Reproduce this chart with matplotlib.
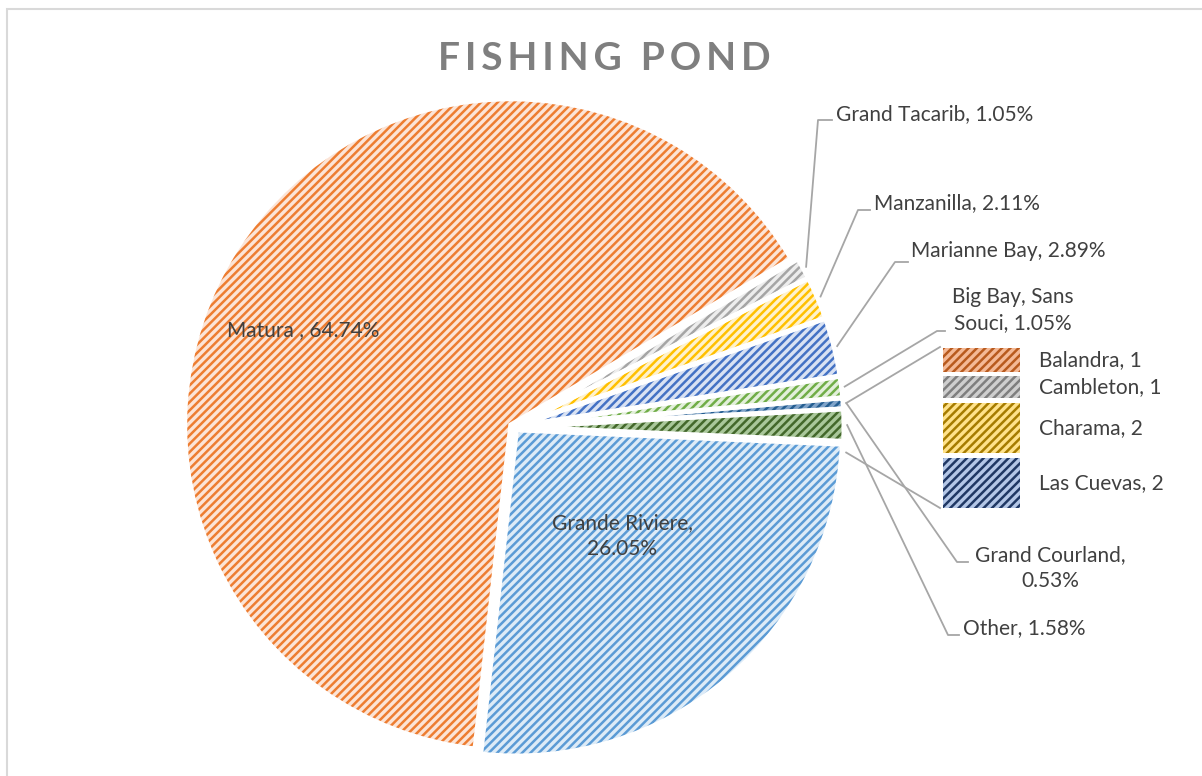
import numpy as np
import matplotlib.pyplot as plt
from matplotlib.patches import Rectangle

plt.rcParams['font.family'] = ['Lato', 'DejaVu Sans']
plt.rcParams['hatch.linewidth'] = 1.8

# slices, clockwise from the bottom edge of Matura
names = ["Matura ", "Grand Tacarib", "Manzanilla", "Marianne Bay",
         "Big Bay, Sans Souci", "Grand Courland", "Other", "Grande Riviere"]
shares = [64.74, 1.05, 2.11, 2.89, 1.05, 0.53, 1.58, 26.05]
line_colors = ["#ED7D31", "#A5A5A5", "#FFC000", "#4472C4",
               "#70AD47", "#255E91", "#43682B", "#5B9BD5"]
fill_colors = ["#FCE4D6", "#EDEDED", "#FFF2CC", "#D9E2F3",
               "#E2EFDA", "#7FA3C9", "#A9C79A", "#DDEBF7"]

# legend entries
legend_names = ["Balandra", "Cambleton", "Charama", "Las Cuevas"]
legend_counts = [1, 1, 2, 2]
legend_lines = ["#B85A1E", "#7F7F7F", "#A67C00", "#203864"]
legend_fills = ["#F4B996", "#CFCFCF", "#FFE28A", "#B4C7E7"]

W, H = 1202, 776
R = 326.0        # pie radius in pixels
CX, CY = 514, 427  # pie centre in pixels (from top)


def px(x, y):
    # pixel position (from top-left) -> data units of the pie axes
    return (x - CX) / R, (CY - y) / R


def fx(x):
    return x / W


def fy(y):
    return 1 - y / H


fig = plt.figure(figsize=(W / 100, H / 100), dpi=100)
ax = fig.add_axes([(CX - 1.2 * R) / W, (H - CY - 1.2 * R) / H, 2.4 * R / W, 2.4 * R / H])

explode = [0.012] * len(shares)
start = 90 - 186.3
wedges, _ = ax.pie(shares, colors=fill_colors, startangle=start, counterclock=False,
                   explode=explode, radius=1.0,
                   wedgeprops=dict(linewidth=0))
for w, lc in zip(wedges, line_colors):
    w.set_hatch("////")
    w.set_edgecolor(lc)
    w.set_linewidth(0)
# white separators on top
ax.pie(shares, colors=["none"] * len(shares), startangle=start, counterclock=False,
       explode=explode, radius=1.0,
       wedgeprops=dict(linewidth=3.5, edgecolor="white", fill=False))
ax.set_xlim(-1.2, 1.2)
ax.set_ylim(-1.2, 1.2)
ax.set_aspect("auto")
ax.axis("off")

txt = "#404040"
fs = 15


def label(i):
    return f"{names[i]}, {shares[i]:.2f}%"


def edge_point(i, r=1.01, frac=0.5):
    w = wedges[i]
    a = np.radians(w.theta1 + (w.theta2 - w.theta1) * frac)
    e = explode[i]
    return (r + e) * np.cos(a), (r + e) * np.sin(a)


# inside labels
ax.text(*px(303, 330), label(0), ha="center", va="center", fontsize=fs, color=txt)
ax.text(*px(622, 536), "Grande Riviere,\n" + f"{shares[7]:.2f}%", ha="center", va="center",
        fontsize=fs, color=txt, linespacing=1.35)

# outside labels with leader lines: (slice, elbow, line end, text pos, text, ha)
outside = [
    (1, (818, 120), (832, 120), (836, 114), label(1), "left"),
    (2, (858, 210), (870, 210), (874, 203), label(2), "left"),
    (3, (895, 262), (908, 262), (911, 251), label(3), "left"),
    (4, (937, 331), (945, 331), (1013, 310), "Big Bay, Sans\nSouci, " + f"{shares[4]:.2f}%", "center"),
    (5, (957, 562), (968, 562), (1050, 568), "Grand Courland,\n" + f"{shares[5]:.2f}%", "center"),
    (6, (948, 635), (959, 635), (963, 628), label(6), "left"),
]
lc = "#A6A6A6"
for i, elbow, end, tpos, s, ha in outside:
    x0, y0 = edge_point(i)
    x1, y1 = px(*elbow)
    x2, y2 = px(*end)
    ax.plot([x0, x1, x2], [y0, y1, y2], color=lc, lw=1.3, clip_on=False)
    ax.text(*px(*tpos), s, ha=ha, va="center", fontsize=fs, color=txt,
            linespacing=1.35, multialignment="center")

# leaders running under the legend
for i, frac, end in [(5, 0.5, (940, 347)), (7, 0.98, (940, 508))]:
    x0, y0 = edge_point(i, frac=frac)
    x1, y1 = px(*end)
    ax.plot([x0, x1], [y0, y1], color=lc, lw=1.3, clip_on=False)

# legend
boxes = [(348, 372), (376, 398), (403, 453), (458, 508)]
for (top, bot), nm, cnt, lcol, fcol in zip(boxes, legend_names, legend_counts,
                                           legend_lines, legend_fills):
    fig.add_artist(Rectangle((fx(943), fy(bot)), fx(1020) - fx(943), fy(top) - fy(bot),
                             transform=fig.transFigure, facecolor=fcol, edgecolor=lcol,
                             hatch="////", linewidth=0))
    fig.text(fx(1039), fy((top + bot) / 2), f"{nm}, {cnt}", ha="left", va="center",
             fontsize=fs, color=txt)

# title
title = "\u2009".join("FISHING") + "  " + "\u2009".join("POND")
fig.text(fx(604), fy(59), title, ha="center", va="center", fontsize=28,
         fontweight="bold", color="#7F7F7F")

# chart area border
fig.add_artist(Rectangle((fx(7), fy(H + 5)), fx(W + 5) - fx(7), fy(9) - fy(H + 5),
                         transform=fig.transFigure, fill=False, edgecolor="#D9D9D9",
                         linewidth=1.5))

fig.savefig("out.png", dpi=100)
